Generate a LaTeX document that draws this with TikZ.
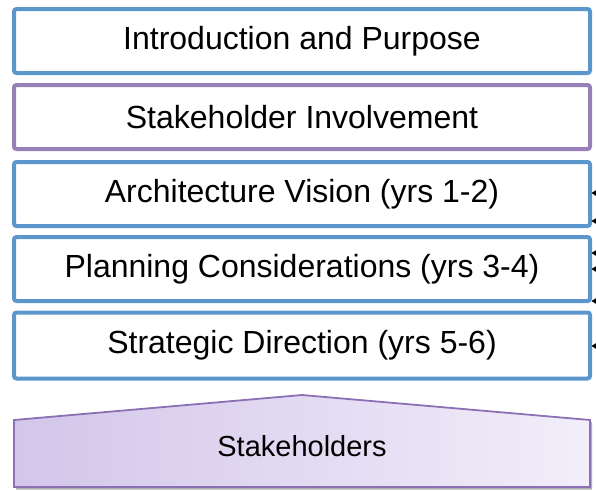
\documentclass[tikz,border=0pt]{standalone}
\usepackage{fontspec}
\setmainfont{Liberation Sans}
\usetikzlibrary{arrows.meta,shadows}
\definecolor{boxblue}{RGB}{91,150,205}
\definecolor{boxpurple}{RGB}{152,127,184}
\definecolor{stkline}{RGB}{140,112,180}
\definecolor{stkleft}{RGB}{211,198,234}
\definecolor{stkright}{RGB}{242,238,250}
\begin{document}
\begin{tikzpicture}[x=1pt,y=-1pt,
  layerbox/.style={draw=boxblue,line width=4pt,rounded corners=2.5pt,fill=white,
    minimum width=576pt,minimum height=64pt,inner sep=0pt,
    font=\fontsize{32}{38}\selectfont,text=black},
  pointer/.style={line width=1pt,-{Triangle[length=5pt,width=6pt]}}]
\useasboundingbox (0,0) rectangle (596,490);
\node[layerbox] (b1) at (302,41) {Introduction and Purpose};
\node[layerbox,draw=boxpurple] (b2) at (302,117) {Stakeholder Involvement};
\node[layerbox] (b3) at (302,194) {Architecture Vision (yrs 1-2)};
\node[layerbox] (b4) at (302,269) {Planning Considerations (yrs 3-4)};
\node[layerbox,minimum height=66pt] (b5) at (302,345.5) {Strategic Direction (yrs 5-6)};
% small incoming arrows at the right edge
\foreach \i/\yy in {1/193,2/221,3/253,4/269,5/301,6/346}{
  \coordinate (s\i) at (620,\yy);
  \coordinate (t\i) at (591.5,\yy);
  \draw[pointer] (s\i) -- (t\i);
}
% stakeholders base
\fill[black!30] (16,422) -- (304,397) -- (592,422) -- (592,489.5) -- (16,489.5) -- cycle;
\shade[left color=stkleft,right color=stkright,draw=stkline,line width=1.8pt,line join=miter]
  (14,420) -- (302,395) -- (590,420) -- (590,487) -- (14,487) -- cycle;
\node[font=\fontsize{29}{34}\selectfont,text=black] (stk) at (302,446) {Stakeholders};
\end{tikzpicture}
\end{document}
